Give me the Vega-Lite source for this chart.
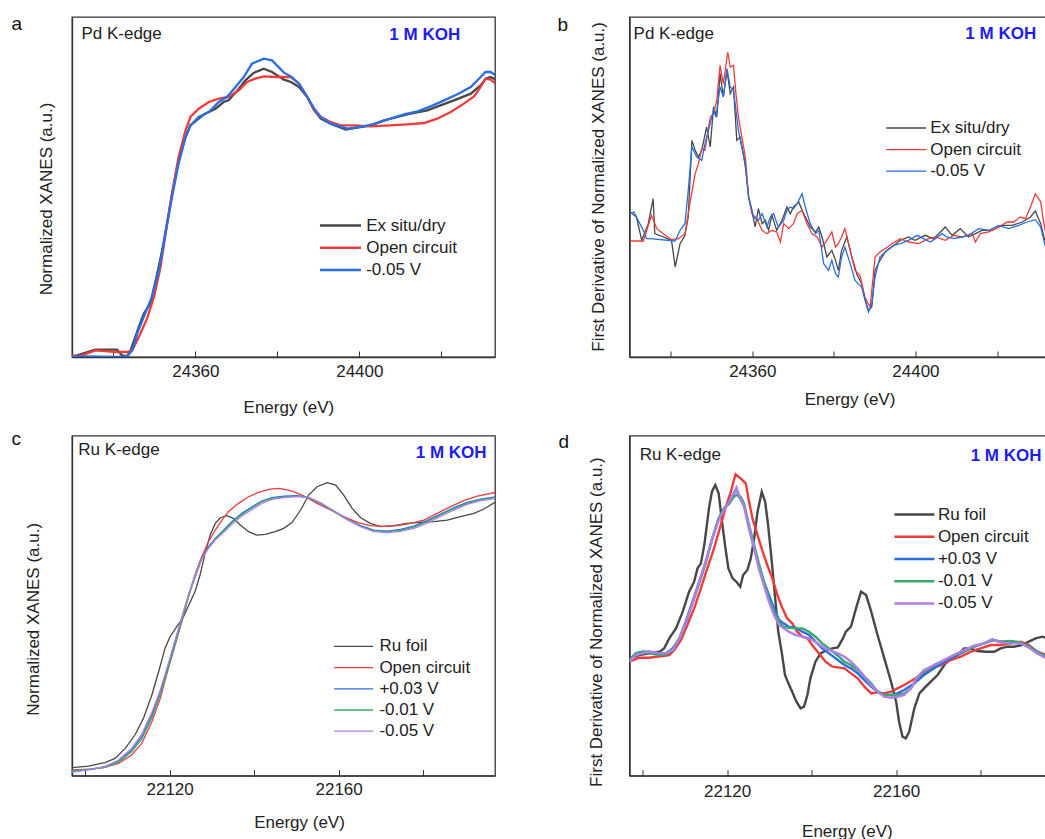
{
"$schema": "https://vega.github.io/schema/vega-lite/v6.json",
"background": "white",
"padding": {"left": 10, "top": 13, "right": 0, "bottom": 0},
"config": {
 "font": "Liberation Sans",
 "view": {"stroke": "#333", "strokeWidth": 1.3},
 "axis": {"grid": false, "domainColor": "#333", "domainWidth": 1.3, "tickColor": "#333", "tickWidth": 1, "labelFont": "Liberation Sans", "labelFontSize": 17, "labelColor": "#222", "titleFont": "Liberation Sans", "titleFontSize": 17, "titleFontWeight": "normal", "titleColor": "#222"},
 "legend": {"orient": "none", "symbolType": "M-1,0H3", "labelFont": "Liberation Sans", "labelFontSize": 17, "labelColor": "#222", "padding": 0, "rowPadding": 0, "labelLimit": 300},
 "title": {"anchor": "start", "frame": "group", "offset": 0, "baseline": "alphabetic", "fontSize": 19, "fontWeight": "normal", "color": "#111", "font": "Liberation Sans"}
},
"datasets": {
"pa": [
{"s":"k","e":24329.9,"v":0},{"s":"k","e":24335.6,"v":2.2},{"s":"k","e":24340.9,"v":2.2},{"s":"k","e":24342.1,"v":0.5},{"s":"k","e":24343.3,"v":0.2},{"s":"k","e":24344.2,"v":2},{"s":"k","e":24346.2,"v":9},{"s":"k","e":24347.4,"v":13},{"s":"k","e":24349.0,"v":16},{"s":"k","e":24350.7,"v":25},{"s":"k","e":24351.9,"v":32},{"s":"k","e":24353.5,"v":43},{"s":"k","e":24354.3,"v":49},{"s":"k","e":24355.9,"v":59},{"s":"k","e":24357.6,"v":66},{"s":"k","e":24358.8,"v":69.5},{"s":"k","e":24360.8,"v":71.5},{"s":"k","e":24362.4,"v":73},{"s":"k","e":24364.9,"v":74.5},{"s":"k","e":24366.9,"v":76.5},{"s":"k","e":24368.1,"v":77},{"s":"k","e":24370.6,"v":80.5},{"s":"k","e":24372.2,"v":83},{"s":"k","e":24374.2,"v":85.2},{"s":"k","e":24376.7,"v":86.5},{"s":"k","e":24378.7,"v":85.5},{"s":"k","e":24381.6,"v":83.2},{"s":"k","e":24383.3,"v":82.5},{"s":"k","e":24385.3,"v":81},{"s":"k","e":24387.3,"v":78},{"s":"k","e":24389.0,"v":74},{"s":"k","e":24390.6,"v":71.5},{"s":"k","e":24393.0,"v":70},{"s":"k","e":24396.7,"v":68.2},{"s":"k","e":24399.5,"v":68.8},{"s":"k","e":24402.8,"v":69.5},{"s":"k","e":24406.0,"v":71},{"s":"k","e":24409.3,"v":72},{"s":"k","e":24412.5,"v":73},{"s":"k","e":24416.6,"v":74},{"s":"k","e":24419.8,"v":75.5},{"s":"k","e":24423.1,"v":77},{"s":"k","e":24427.2,"v":79},{"s":"k","e":24429.6,"v":81.5},{"s":"k","e":24430.8,"v":83.5},{"s":"k","e":24432.0,"v":84},{"s":"k","e":24433.3,"v":83.2},
{"s":"r","e":24329.9,"v":0.5},{"s":"r","e":24331.6,"v":0.2},{"s":"r","e":24335.6,"v":2},{"s":"r","e":24340.9,"v":1.5},{"s":"r","e":24343.3,"v":1.5},{"s":"r","e":24344.6,"v":2},{"s":"r","e":24346.2,"v":6},{"s":"r","e":24348.2,"v":11.5},{"s":"r","e":24349.9,"v":18},{"s":"r","e":24351.5,"v":27},{"s":"r","e":24353.1,"v":40},{"s":"r","e":24354.3,"v":49},{"s":"r","e":24355.9,"v":60},{"s":"r","e":24357.6,"v":68},{"s":"r","e":24358.8,"v":72},{"s":"r","e":24360.8,"v":74.5},{"s":"r","e":24363.3,"v":76.5},{"s":"r","e":24365.7,"v":77.5},{"s":"r","e":24368.1,"v":78},{"s":"r","e":24370.6,"v":80},{"s":"r","e":24372.6,"v":82.5},{"s":"r","e":24374.6,"v":83.5},{"s":"r","e":24376.7,"v":84.2},{"s":"r","e":24379.5,"v":84},{"s":"r","e":24381.6,"v":84},{"s":"r","e":24383.3,"v":84},{"s":"r","e":24385.3,"v":82},{"s":"r","e":24387.3,"v":78},{"s":"r","e":24389.0,"v":74},{"s":"r","e":24390.6,"v":72},{"s":"r","e":24393.0,"v":70.5},{"s":"r","e":24395.4,"v":69.5},{"s":"r","e":24398.7,"v":69.5},{"s":"r","e":24402.8,"v":69.2},{"s":"r","e":24407.6,"v":69.5},{"s":"r","e":24411.7,"v":69.8},{"s":"r","e":24415.8,"v":70.2},{"s":"r","e":24419.0,"v":71.5},{"s":"r","e":24422.3,"v":73.5},{"s":"r","e":24425.5,"v":76},{"s":"r","e":24428.0,"v":78.2},{"s":"r","e":24429.6,"v":81},{"s":"r","e":24430.8,"v":83.5},{"s":"r","e":24432.0,"v":83.2},{"s":"r","e":24433.3,"v":82},
{"s":"b","e":24329.9,"v":0},{"s":"b","e":24333.2,"v":0.2},{"s":"b","e":24340.5,"v":0},{"s":"b","e":24343.3,"v":0},{"s":"b","e":24344.6,"v":2},{"s":"b","e":24345.8,"v":7},{"s":"b","e":24347.4,"v":12},{"s":"b","e":24349.4,"v":18},{"s":"b","e":24351.1,"v":26},{"s":"b","e":24352.7,"v":37},{"s":"b","e":24354.3,"v":48},{"s":"b","e":24355.9,"v":58},{"s":"b","e":24357.6,"v":66},{"s":"b","e":24358.8,"v":69.5},{"s":"b","e":24360.8,"v":72},{"s":"b","e":24363.3,"v":73.5},{"s":"b","e":24365.7,"v":76.5},{"s":"b","e":24367.7,"v":78},{"s":"b","e":24369.8,"v":81},{"s":"b","e":24371.8,"v":84},{"s":"b","e":24373.8,"v":88},{"s":"b","e":24376.7,"v":89.5},{"s":"b","e":24378.7,"v":89},{"s":"b","e":24381.6,"v":85.3},{"s":"b","e":24383.3,"v":84.2},{"s":"b","e":24385.3,"v":82},{"s":"b","e":24387.3,"v":78},{"s":"b","e":24389.0,"v":74.5},{"s":"b","e":24390.6,"v":72},{"s":"b","e":24393.0,"v":70},{"s":"b","e":24397.1,"v":68.5},{"s":"b","e":24401.1,"v":69.2},{"s":"b","e":24404.4,"v":70.2},{"s":"b","e":24407.6,"v":71.5},{"s":"b","e":24410.9,"v":72.8},{"s":"b","e":24414.2,"v":73.7},{"s":"b","e":24417.4,"v":75.2},{"s":"b","e":24420.7,"v":77},{"s":"b","e":24423.9,"v":78.8},{"s":"b","e":24427.2,"v":81},{"s":"b","e":24429.6,"v":84},{"s":"b","e":24430.8,"v":85.5},{"s":"b","e":24432.0,"v":85.5},{"s":"b","e":24433.3,"v":84.5}
],
"pb": [
{"s":"k","e":24330.0,"v":43.5},{"s":"k","e":24331.6,"v":42},{"s":"k","e":24332.9,"v":35},{"s":"k","e":24334.5,"v":40},{"s":"k","e":24335.7,"v":47.5},{"s":"k","e":24336.1,"v":37},{"s":"k","e":24338.2,"v":36},{"s":"k","e":24340.2,"v":35},{"s":"k","e":24341.1,"v":27},{"s":"k","e":24342.3,"v":34},{"s":"k","e":24343.5,"v":36.5},{"s":"k","e":24344.3,"v":42},{"s":"k","e":24345.2,"v":65},{"s":"k","e":24346.0,"v":62},{"s":"k","e":24346.8,"v":60},{"s":"k","e":24347.6,"v":62},{"s":"k","e":24348.8,"v":69},{"s":"k","e":24349.7,"v":63},{"s":"k","e":24350.5,"v":75},{"s":"k","e":24351.3,"v":72},{"s":"k","e":24352.1,"v":85},{"s":"k","e":24352.9,"v":78},{"s":"k","e":24353.8,"v":86},{"s":"k","e":24354.6,"v":79},{"s":"k","e":24355.4,"v":81},{"s":"k","e":24356.2,"v":65},{"s":"k","e":24357.0,"v":66},{"s":"k","e":24357.8,"v":61},{"s":"k","e":24358.3,"v":57},{"s":"k","e":24359.1,"v":48},{"s":"k","e":24359.9,"v":44},{"s":"k","e":24360.7,"v":39},{"s":"k","e":24361.5,"v":44.5},{"s":"k","e":24362.4,"v":40},{"s":"k","e":24363.2,"v":41},{"s":"k","e":24364.0,"v":38},{"s":"k","e":24364.8,"v":42.5},{"s":"k","e":24366.0,"v":38},{"s":"k","e":24367.3,"v":41},{"s":"k","e":24368.5,"v":45},{"s":"k","e":24369.3,"v":43},{"s":"k","e":24370.1,"v":45},{"s":"k","e":24371.4,"v":46.5},{"s":"k","e":24372.2,"v":44},{"s":"k","e":24373.0,"v":42},{"s":"k","e":24374.2,"v":39},{"s":"k","e":24375.5,"v":37.5},{"s":"k","e":24376.3,"v":39},{"s":"k","e":24377.1,"v":36},{"s":"k","e":24378.3,"v":30},{"s":"k","e":24379.5,"v":32},{"s":"k","e":24380.4,"v":29},{"s":"k","e":24381.1,"v":26},{"s":"k","e":24381.9,"v":32},{"s":"k","e":24383.2,"v":36},{"s":"k","e":24384.4,"v":30},{"s":"k","e":24385.6,"v":25},{"s":"k","e":24386.8,"v":22},{"s":"k","e":24387.6,"v":17.5},{"s":"k","e":24388.5,"v":14},{"s":"k","e":24389.3,"v":15},{"s":"k","e":24390.1,"v":26},{"s":"k","e":24391.3,"v":29},{"s":"k","e":24392.6,"v":31.5},{"s":"k","e":24394.2,"v":33},{"s":"k","e":24396.3,"v":35},{"s":"k","e":24398.3,"v":36},{"s":"k","e":24399.9,"v":35},{"s":"k","e":24402.4,"v":36.5},{"s":"k","e":24404.4,"v":35.5},{"s":"k","e":24405.7,"v":37},{"s":"k","e":24407.3,"v":39},{"s":"k","e":24409.0,"v":36.5},{"s":"k","e":24411.0,"v":38.5},{"s":"k","e":24413.0,"v":36},{"s":"k","e":24414.7,"v":37},{"s":"k","e":24416.3,"v":38},{"s":"k","e":24418.8,"v":38},{"s":"k","e":24421.2,"v":39.5},{"s":"k","e":24423.7,"v":39.5},{"s":"k","e":24426.2,"v":40.5},{"s":"k","e":24428.2,"v":42},{"s":"k","e":24429.4,"v":43.8},{"s":"k","e":24430.7,"v":40},{"s":"k","e":24431.9,"v":34},{"s":"k","e":24432.5,"v":31},
{"s":"r","e":24330.0,"v":34.8},{"s":"r","e":24333.3,"v":34.8},{"s":"r","e":24335.3,"v":42.5},{"s":"r","e":24336.6,"v":38.5},{"s":"r","e":24338.2,"v":37},{"s":"r","e":24340.2,"v":35.2},{"s":"r","e":24341.9,"v":35.5},{"s":"r","e":24343.5,"v":37},{"s":"r","e":24344.7,"v":46},{"s":"r","e":24346.0,"v":55},{"s":"r","e":24346.8,"v":58},{"s":"r","e":24347.6,"v":62.5},{"s":"r","e":24348.4,"v":62},{"s":"r","e":24349.7,"v":72},{"s":"r","e":24350.5,"v":73},{"s":"r","e":24351.3,"v":77},{"s":"r","e":24352.1,"v":87.5},{"s":"r","e":24352.9,"v":82},{"s":"r","e":24354.0,"v":91.5},{"s":"r","e":24354.6,"v":87},{"s":"r","e":24355.4,"v":87.5},{"s":"r","e":24356.0,"v":79},{"s":"r","e":24356.6,"v":72},{"s":"r","e":24357.3,"v":67},{"s":"r","e":24358.3,"v":60},{"s":"r","e":24359.1,"v":48},{"s":"r","e":24359.9,"v":43},{"s":"r","e":24361.1,"v":41.5},{"s":"r","e":24362.4,"v":38},{"s":"r","e":24363.6,"v":37},{"s":"r","e":24364.8,"v":38},{"s":"r","e":24366.0,"v":37.5},{"s":"r","e":24366.9,"v":34.5},{"s":"r","e":24367.7,"v":40},{"s":"r","e":24368.9,"v":38.5},{"s":"r","e":24370.1,"v":40},{"s":"r","e":24371.0,"v":43},{"s":"r","e":24372.2,"v":44},{"s":"r","e":24373.4,"v":40},{"s":"r","e":24374.6,"v":37},{"s":"r","e":24375.9,"v":36},{"s":"r","e":24377.1,"v":33},{"s":"r","e":24378.3,"v":35},{"s":"r","e":24379.5,"v":37.5},{"s":"r","e":24380.4,"v":33},{"s":"r","e":24381.1,"v":34},{"s":"r","e":24381.9,"v":36},{"s":"r","e":24382.7,"v":38.5},{"s":"r","e":24384.0,"v":32},{"s":"r","e":24385.2,"v":26},{"s":"r","e":24386.4,"v":24.5},{"s":"r","e":24387.6,"v":18},{"s":"r","e":24388.9,"v":15},{"s":"r","e":24390.1,"v":30},{"s":"r","e":24391.3,"v":31.5},{"s":"r","e":24392.6,"v":32.5},{"s":"r","e":24394.2,"v":34},{"s":"r","e":24396.3,"v":35.5},{"s":"r","e":24398.3,"v":34.5},{"s":"r","e":24400.8,"v":34},{"s":"r","e":24403.2,"v":35.5},{"s":"r","e":24404.9,"v":36},{"s":"r","e":24407.3,"v":35},{"s":"r","e":24409.4,"v":36.5},{"s":"r","e":24411.4,"v":36},{"s":"r","e":24413.9,"v":37},{"s":"r","e":24414.7,"v":34.5},{"s":"r","e":24415.9,"v":37},{"s":"r","e":24418.0,"v":37.5},{"s":"r","e":24420.4,"v":39},{"s":"r","e":24422.5,"v":40.5},{"s":"r","e":24424.1,"v":40.5},{"s":"r","e":24425.7,"v":42},{"s":"r","e":24427.0,"v":41.5},{"s":"r","e":24428.2,"v":45},{"s":"r","e":24429.4,"v":49},{"s":"r","e":24430.7,"v":46.5},{"s":"r","e":24431.5,"v":40},{"s":"r","e":24432.5,"v":33.5},
{"s":"b","e":24330.0,"v":43},{"s":"b","e":24331.0,"v":43.5},{"s":"b","e":24332.0,"v":41},{"s":"b","e":24333.3,"v":38},{"s":"b","e":24334.1,"v":35.5},{"s":"b","e":24334.9,"v":35.5},{"s":"b","e":24341.1,"v":34.8},{"s":"b","e":24342.3,"v":38},{"s":"b","e":24343.5,"v":40},{"s":"b","e":24344.3,"v":50},{"s":"b","e":24345.2,"v":63},{"s":"b","e":24346.4,"v":60},{"s":"b","e":24347.6,"v":59},{"s":"b","e":24348.4,"v":64},{"s":"b","e":24349.7,"v":70},{"s":"b","e":24350.5,"v":74},{"s":"b","e":24351.1,"v":72},{"s":"b","e":24352.1,"v":81},{"s":"b","e":24352.9,"v":78},{"s":"b","e":24353.8,"v":86.5},{"s":"b","e":24354.6,"v":81},{"s":"b","e":24355.4,"v":80},{"s":"b","e":24356.6,"v":68},{"s":"b","e":24357.4,"v":63},{"s":"b","e":24358.3,"v":58},{"s":"b","e":24359.1,"v":48},{"s":"b","e":24360.3,"v":42},{"s":"b","e":24361.5,"v":41},{"s":"b","e":24362.4,"v":43},{"s":"b","e":24363.6,"v":39},{"s":"b","e":24364.4,"v":42},{"s":"b","e":24365.2,"v":43},{"s":"b","e":24366.4,"v":39},{"s":"b","e":24367.7,"v":41},{"s":"b","e":24368.5,"v":44},{"s":"b","e":24369.3,"v":45},{"s":"b","e":24370.1,"v":44.5},{"s":"b","e":24371.0,"v":46},{"s":"b","e":24372.2,"v":49},{"s":"b","e":24373.0,"v":45},{"s":"b","e":24374.2,"v":40},{"s":"b","e":24375.5,"v":37},{"s":"b","e":24376.3,"v":38},{"s":"b","e":24377.5,"v":28},{"s":"b","e":24378.7,"v":26},{"s":"b","e":24379.5,"v":29},{"s":"b","e":24380.4,"v":25},{"s":"b","e":24381.1,"v":24},{"s":"b","e":24381.9,"v":30},{"s":"b","e":24382.7,"v":33},{"s":"b","e":24384.0,"v":28},{"s":"b","e":24385.2,"v":23},{"s":"b","e":24386.8,"v":21},{"s":"b","e":24388.1,"v":15},{"s":"b","e":24388.5,"v":13.5},{"s":"b","e":24389.3,"v":16},{"s":"b","e":24390.1,"v":24},{"s":"b","e":24391.3,"v":30},{"s":"b","e":24393.0,"v":32},{"s":"b","e":24394.6,"v":33.5},{"s":"b","e":24396.3,"v":34},{"s":"b","e":24398.3,"v":35},{"s":"b","e":24400.4,"v":36.5},{"s":"b","e":24402.0,"v":35.5},{"s":"b","e":24403.6,"v":34.5},{"s":"b","e":24404.9,"v":35.5},{"s":"b","e":24406.5,"v":37},{"s":"b","e":24407.7,"v":36},{"s":"b","e":24409.4,"v":35.5},{"s":"b","e":24411.4,"v":36},{"s":"b","e":24413.0,"v":36.5},{"s":"b","e":24415.5,"v":38.5},{"s":"b","e":24418.0,"v":38},{"s":"b","e":24420.4,"v":39.5},{"s":"b","e":24422.9,"v":38.5},{"s":"b","e":24425.3,"v":39.5},{"s":"b","e":24427.4,"v":40.5},{"s":"b","e":24429.4,"v":41.2},{"s":"b","e":24430.7,"v":39},{"s":"b","e":24431.9,"v":33},{"s":"b","e":24432.5,"v":30}
],
"pc": [
{"s":"k","e":22096.85,"v":2.4},{"s":"k","e":22100.8,"v":2.9},{"s":"k","e":22104.7,"v":3.9},{"s":"k","e":22107.1,"v":5.2},{"s":"k","e":22109.5,"v":8.2},{"s":"k","e":22111.8,"v":12.2},{"s":"k","e":22113.8,"v":17.2},{"s":"k","e":22115.8,"v":24.2},{"s":"k","e":22117.4,"v":31.2},{"s":"k","e":22118.9,"v":38.2},{"s":"k","e":22120.1,"v":41.7},{"s":"k","e":22121.7,"v":44.7},{"s":"k","e":22123.3,"v":47.7},{"s":"k","e":22124.9,"v":52.2},{"s":"k","e":22126.0,"v":55.2},{"s":"k","e":22127.2,"v":60.2},{"s":"k","e":22128.4,"v":66.7},{"s":"k","e":22129.6,"v":72.2},{"s":"k","e":22130.8,"v":75.7},{"s":"k","e":22132.0,"v":77.4},{"s":"k","e":22133.5,"v":78},{"s":"k","e":22135.1,"v":77.2},{"s":"k","e":22136.7,"v":75.2},{"s":"k","e":22138.7,"v":73.2},{"s":"k","e":22140.6,"v":72.2},{"s":"k","e":22142.6,"v":72.4},{"s":"k","e":22145.0,"v":73.2},{"s":"k","e":22147.0,"v":74.2},{"s":"k","e":22149.0,"v":76},{"s":"k","e":22151.0,"v":79.7},{"s":"k","e":22152.9,"v":84.2},{"s":"k","e":22154.9,"v":86.7},{"s":"k","e":22157.3,"v":87.9},{"s":"k","e":22159.3,"v":87.2},{"s":"k","e":22161.2,"v":84.2},{"s":"k","e":22163.2,"v":80.2},{"s":"k","e":22165.2,"v":77.4},{"s":"k","e":22167.5,"v":75.7},{"s":"k","e":22169.9,"v":74.7},{"s":"k","e":22173.1,"v":75},{"s":"k","e":22176.2,"v":75.7},{"s":"k","e":22179.4,"v":76},{"s":"k","e":22182.5,"v":76.2},{"s":"k","e":22185.7,"v":76.7},{"s":"k","e":22188.8,"v":77.7},{"s":"k","e":22192.0,"v":78.7},{"s":"k","e":22194.4,"v":80},{"s":"k","e":22197.2,"v":82.2},
{"s":"r","e":22096.85,"v":1.7},{"s":"r","e":22101.6,"v":2},{"s":"r","e":22104.7,"v":2.5},{"s":"r","e":22107.9,"v":3.7},{"s":"r","e":22111.0,"v":6.2},{"s":"r","e":22113.4,"v":9.7},{"s":"r","e":22115.8,"v":16.2},{"s":"r","e":22117.8,"v":23.2},{"s":"r","e":22119.7,"v":32.2},{"s":"r","e":22121.3,"v":39.2},{"s":"r","e":22122.9,"v":46.2},{"s":"r","e":22124.5,"v":54.2},{"s":"r","e":22126.0,"v":60.2},{"s":"r","e":22127.6,"v":65.7},{"s":"r","e":22129.2,"v":70.2},{"s":"r","e":22130.8,"v":73.7},{"s":"r","e":22132.4,"v":76.7},{"s":"r","e":22133.9,"v":79.2},{"s":"r","e":22136.3,"v":81.7},{"s":"r","e":22138.7,"v":83.7},{"s":"r","e":22141.0,"v":85},{"s":"r","e":22143.8,"v":86},{"s":"r","e":22145.8,"v":86.2},{"s":"r","e":22147.0,"v":86},{"s":"r","e":22149.4,"v":85.2},{"s":"r","e":22151.8,"v":83.9},{"s":"r","e":22154.9,"v":81.7},{"s":"r","e":22158.1,"v":79.7},{"s":"r","e":22161.2,"v":77.7},{"s":"r","e":22164.4,"v":76},{"s":"r","e":22167.5,"v":75},{"s":"r","e":22170.7,"v":74.8},{"s":"r","e":22173.9,"v":75},{"s":"r","e":22177.0,"v":75.7},{"s":"r","e":22180.2,"v":76.7},{"s":"r","e":22183.3,"v":78.7},{"s":"r","e":22186.5,"v":80.7},{"s":"r","e":22189.6,"v":82.5},{"s":"r","e":22192.8,"v":83.9},{"s":"r","e":22197.2,"v":85},
{"s":"b","e":22096.85,"v":1.2},{"s":"b","e":22101.6,"v":1.9},{"s":"b","e":22104.7,"v":2.7},{"s":"b","e":22107.9,"v":4.4},{"s":"b","e":22111.0,"v":7.7},{"s":"b","e":22113.4,"v":11.7},{"s":"b","e":22115.8,"v":18.2},{"s":"b","e":22117.8,"v":25.2},{"s":"b","e":22119.7,"v":33.2},{"s":"b","e":22121.3,"v":40.2},{"s":"b","e":22122.9,"v":47.2},{"s":"b","e":22124.5,"v":54.2},{"s":"b","e":22126.0,"v":59.7},{"s":"b","e":22127.6,"v":65.2},{"s":"b","e":22129.2,"v":68.7},{"s":"b","e":22130.8,"v":71.2},{"s":"b","e":22132.8,"v":73.7},{"s":"b","e":22134.7,"v":76.2},{"s":"b","e":22137.1,"v":78.7},{"s":"b","e":22139.5,"v":80.7},{"s":"b","e":22141.8,"v":82.4},{"s":"b","e":22144.2,"v":83.4},{"s":"b","e":22147.0,"v":83.9},{"s":"b","e":22150.2,"v":84},{"s":"b","e":22152.9,"v":83.4},{"s":"b","e":22155.7,"v":81.7},{"s":"b","e":22158.9,"v":79.4},{"s":"b","e":22162.0,"v":77},{"s":"b","e":22165.2,"v":75},{"s":"b","e":22168.3,"v":73.7},{"s":"b","e":22171.5,"v":73.4},{"s":"b","e":22174.6,"v":73.9},{"s":"b","e":22177.8,"v":74.9},{"s":"b","e":22180.9,"v":76.5},{"s":"b","e":22184.1,"v":78.5},{"s":"b","e":22187.3,"v":80.4},{"s":"b","e":22190.4,"v":82},{"s":"b","e":22193.6,"v":83},{"s":"b","e":22197.2,"v":83.7},
{"s":"g","e":22096.85,"v":1.4},{"s":"g","e":22104.7,"v":2.5},{"s":"g","e":22107.9,"v":4},{"s":"g","e":22111.0,"v":7.2},{"s":"g","e":22113.4,"v":11},{"s":"g","e":22115.8,"v":17.4},{"s":"g","e":22117.8,"v":24.4},{"s":"g","e":22119.7,"v":32.4},{"s":"g","e":22121.3,"v":39.4},{"s":"g","e":22122.9,"v":46.7},{"s":"g","e":22124.5,"v":53.8},{"s":"g","e":22126.0,"v":59.5},{"s":"g","e":22127.6,"v":65},{"s":"g","e":22129.2,"v":68.5},{"s":"g","e":22130.8,"v":71},{"s":"g","e":22132.8,"v":73.5},{"s":"g","e":22134.7,"v":75.9},{"s":"g","e":22137.1,"v":78.4},{"s":"g","e":22139.5,"v":80.4},{"s":"g","e":22141.8,"v":82.2},{"s":"g","e":22144.2,"v":83.2},{"s":"g","e":22147.0,"v":83.6},{"s":"g","e":22150.2,"v":83.9},{"s":"g","e":22152.9,"v":83.4},{"s":"g","e":22155.7,"v":81.7},{"s":"g","e":22158.9,"v":79.2},{"s":"g","e":22162.0,"v":76.8},{"s":"g","e":22165.2,"v":74.8},{"s":"g","e":22168.3,"v":73.5},{"s":"g","e":22171.5,"v":73.2},{"s":"g","e":22174.6,"v":73.6},{"s":"g","e":22177.8,"v":74.6},{"s":"g","e":22180.9,"v":76.2},{"s":"g","e":22184.1,"v":78.2},{"s":"g","e":22187.3,"v":80.1},{"s":"g","e":22190.4,"v":81.7},{"s":"g","e":22193.6,"v":82.8},{"s":"g","e":22197.2,"v":83.5},
{"s":"p","e":22096.85,"v":1},{"s":"p","e":22104.7,"v":2.7},{"s":"p","e":22107.9,"v":4.7},{"s":"p","e":22111.0,"v":8.2},{"s":"p","e":22113.4,"v":12.4},{"s":"p","e":22115.8,"v":19},{"s":"p","e":22117.8,"v":25.7},{"s":"p","e":22119.7,"v":33.7},{"s":"p","e":22121.3,"v":40.7},{"s":"p","e":22122.9,"v":47.7},{"s":"p","e":22124.5,"v":54.4},{"s":"p","e":22126.0,"v":59.7},{"s":"p","e":22127.6,"v":65},{"s":"p","e":22129.2,"v":68.2},{"s":"p","e":22130.8,"v":70.7},{"s":"p","e":22132.8,"v":73},{"s":"p","e":22134.7,"v":75.4},{"s":"p","e":22137.1,"v":77.9},{"s":"p","e":22139.5,"v":79.9},{"s":"p","e":22141.8,"v":81.7},{"s":"p","e":22144.2,"v":82.9},{"s":"p","e":22147.0,"v":83.4},{"s":"p","e":22150.2,"v":83.7},{"s":"p","e":22152.9,"v":83.5},{"s":"p","e":22155.7,"v":81.9},{"s":"p","e":22158.9,"v":79.4},{"s":"p","e":22162.0,"v":76.9},{"s":"p","e":22165.2,"v":74.7},{"s":"p","e":22168.3,"v":73.2},{"s":"p","e":22171.5,"v":72.9},{"s":"p","e":22174.6,"v":73.3},{"s":"p","e":22177.8,"v":74.2},{"s":"p","e":22180.9,"v":75.8},{"s":"p","e":22184.1,"v":77.8},{"s":"p","e":22187.3,"v":79.7},{"s":"p","e":22190.4,"v":81.4},{"s":"p","e":22193.6,"v":82.5},{"s":"p","e":22197.2,"v":83.2}
],
"pd": [
{"s":"k","e":22096.9,"v":35.2},{"s":"k","e":22099.2,"v":36.2},{"s":"k","e":22101.6,"v":36.7},{"s":"k","e":22104.0,"v":37.2},{"s":"k","e":22105.1,"v":38.2},{"s":"k","e":22106.3,"v":41.2},{"s":"k","e":22107.9,"v":44.2},{"s":"k","e":22109.5,"v":49.2},{"s":"k","e":22111.0,"v":55.2},{"s":"k","e":22112.2,"v":58.2},{"s":"k","e":22113.0,"v":62.2},{"s":"k","e":22113.8,"v":63.7},{"s":"k","e":22114.6,"v":69.2},{"s":"k","e":22115.7,"v":80.2},{"s":"k","e":22116.4,"v":85.2},{"s":"k","e":22117.2,"v":87.2},{"s":"k","e":22118.0,"v":84.7},{"s":"k","e":22118.7,"v":77.2},{"s":"k","e":22119.5,"v":69.2},{"s":"k","e":22120.3,"v":62.2},{"s":"k","e":22121.3,"v":59.2},{"s":"k","e":22122.2,"v":58.2},{"s":"k","e":22123.1,"v":56.7},{"s":"k","e":22123.8,"v":60.2},{"s":"k","e":22124.8,"v":61.7},{"s":"k","e":22125.6,"v":65.2},{"s":"k","e":22126.4,"v":71.2},{"s":"k","e":22127.2,"v":79.2},{"s":"k","e":22128.2,"v":85.2},{"s":"k","e":22129.0,"v":82.2},{"s":"k","e":22129.7,"v":75.2},{"s":"k","e":22130.5,"v":65.2},{"s":"k","e":22131.3,"v":54.2},{"s":"k","e":22132.1,"v":43.2},{"s":"k","e":22132.9,"v":37.2},{"s":"k","e":22133.7,"v":30.2},{"s":"k","e":22134.5,"v":27.7},{"s":"k","e":22135.4,"v":25.2},{"s":"k","e":22136.4,"v":22.2},{"s":"k","e":22137.4,"v":20.2},{"s":"k","e":22138.2,"v":20.7},{"s":"k","e":22139.0,"v":24.2},{"s":"k","e":22139.7,"v":29.2},{"s":"k","e":22140.9,"v":34.2},{"s":"k","e":22142.1,"v":36.7},{"s":"k","e":22143.7,"v":37.7},{"s":"k","e":22144.9,"v":38.2},{"s":"k","e":22146.2,"v":38.5},{"s":"k","e":22147.4,"v":41.2},{"s":"k","e":22148.1,"v":43.2},{"s":"k","e":22149.3,"v":44.7},{"s":"k","e":22150.5,"v":50.2},{"s":"k","e":22151.7,"v":55.2},{"s":"k","e":22152.9,"v":54.2},{"s":"k","e":22154.1,"v":49.2},{"s":"k","e":22155.6,"v":42.2},{"s":"k","e":22157.2,"v":35.2},{"s":"k","e":22158.8,"v":28.2},{"s":"k","e":22160.0,"v":22.2},{"s":"k","e":22160.7,"v":16.2},{"s":"k","e":22161.5,"v":11.7},{"s":"k","e":22162.3,"v":11.2},{"s":"k","e":22163.1,"v":13.2},{"s":"k","e":22164.3,"v":20.2},{"s":"k","e":22165.5,"v":24.7},{"s":"k","e":22166.6,"v":26.2},{"s":"k","e":22168.2,"v":28.2},{"s":"k","e":22169.8,"v":30.2},{"s":"k","e":22171.4,"v":33.2},{"s":"k","e":22172.9,"v":35.2},{"s":"k","e":22174.5,"v":36.2},{"s":"k","e":22176.1,"v":38.2},{"s":"k","e":22177.7,"v":38.2},{"s":"k","e":22179.2,"v":37.4},{"s":"k","e":22181.2,"v":37.2},{"s":"k","e":22183.2,"v":37.2},{"s":"k","e":22184.7,"v":38.2},{"s":"k","e":22186.3,"v":38.7},{"s":"k","e":22187.9,"v":38.7},{"s":"k","e":22189.8,"v":39.2},{"s":"k","e":22191.4,"v":40.2},{"s":"k","e":22193.0,"v":41.2},{"s":"k","e":22194.6,"v":41.7},{"s":"k","e":22195.5,"v":41.4},
{"s":"r","e":22096.9,"v":34.2},{"s":"r","e":22099.2,"v":35.4},{"s":"r","e":22101.6,"v":35.4},{"s":"r","e":22103.2,"v":35.7},{"s":"r","e":22104.7,"v":35.9},{"s":"r","e":22106.3,"v":36.2},{"s":"r","e":22107.5,"v":37.7},{"s":"r","e":22109.1,"v":40.7},{"s":"r","e":22110.6,"v":45.2},{"s":"r","e":22112.2,"v":50.2},{"s":"r","e":22113.8,"v":56.2},{"s":"r","e":22115.3,"v":62.2},{"s":"r","e":22116.9,"v":68.2},{"s":"r","e":22118.5,"v":75.2},{"s":"r","e":22119.7,"v":80.7},{"s":"r","e":22120.9,"v":85.2},{"s":"r","e":22121.5,"v":88.2},{"s":"r","e":22122.0,"v":90.4},{"s":"r","e":22123.2,"v":89.2},{"s":"r","e":22124.4,"v":87.7},{"s":"r","e":22125.2,"v":82.2},{"s":"r","e":22126.0,"v":77.2},{"s":"r","e":22127.2,"v":72.2},{"s":"r","e":22128.3,"v":67.7},{"s":"r","e":22129.5,"v":63.2},{"s":"r","e":22130.7,"v":59.2},{"s":"r","e":22131.9,"v":54.2},{"s":"r","e":22133.1,"v":50.2},{"s":"r","e":22134.2,"v":47.2},{"s":"r","e":22135.4,"v":45.7},{"s":"r","e":22136.6,"v":43.2},{"s":"r","e":22137.8,"v":41.7},{"s":"r","e":22139.0,"v":41.2},{"s":"r","e":22140.1,"v":39.2},{"s":"r","e":22141.7,"v":36.7},{"s":"r","e":22143.3,"v":34.2},{"s":"r","e":22144.9,"v":32.7},{"s":"r","e":22146.2,"v":32.5},{"s":"r","e":22147.8,"v":32.2},{"s":"r","e":22149.3,"v":30.7},{"s":"r","e":22150.9,"v":29.2},{"s":"r","e":22152.5,"v":26.7},{"s":"r","e":22154.1,"v":24.7},{"s":"r","e":22155.6,"v":25},{"s":"r","e":22157.2,"v":24.7},{"s":"r","e":22158.8,"v":25.2},{"s":"r","e":22160.3,"v":26.2},{"s":"r","e":22161.9,"v":27.2},{"s":"r","e":22163.5,"v":28.4},{"s":"r","e":22165.9,"v":30.2},{"s":"r","e":22168.2,"v":32.2},{"s":"r","e":22170.6,"v":33.2},{"s":"r","e":22172.9,"v":34.7},{"s":"r","e":22175.3,"v":35.7},{"s":"r","e":22177.7,"v":37.2},{"s":"r","e":22180.0,"v":38.2},{"s":"r","e":22182.4,"v":39.2},{"s":"r","e":22184.7,"v":39.2},{"s":"r","e":22187.1,"v":39.7},{"s":"r","e":22189.5,"v":40.2},{"s":"r","e":22191.4,"v":39.2},{"s":"r","e":22193.4,"v":37.2},{"s":"r","e":22195.5,"v":36.2},
{"s":"b","e":22096.9,"v":34.7},{"s":"b","e":22098.4,"v":36.7},{"s":"b","e":22100.0,"v":37.2},{"s":"b","e":22101.6,"v":37.2},{"s":"b","e":22104.0,"v":36.7},{"s":"b","e":22105.5,"v":36.7},{"s":"b","e":22107.1,"v":38.2},{"s":"b","e":22108.7,"v":41.2},{"s":"b","e":22110.2,"v":46.2},{"s":"b","e":22111.8,"v":52.2},{"s":"b","e":22113.4,"v":58.2},{"s":"b","e":22115.0,"v":64.2},{"s":"b","e":22116.5,"v":71.2},{"s":"b","e":22118.0,"v":77.2},{"s":"b","e":22119.3,"v":80.2},{"s":"b","e":22120.5,"v":81.7},{"s":"b","e":22121.6,"v":84.7},{"s":"b","e":22122.2,"v":86.2},{"s":"b","e":22122.8,"v":83.7},{"s":"b","e":22124.0,"v":81.2},{"s":"b","e":22125.2,"v":74.2},{"s":"b","e":22126.4,"v":68.2},{"s":"b","e":22127.5,"v":63.2},{"s":"b","e":22128.7,"v":58.2},{"s":"b","e":22129.9,"v":54.2},{"s":"b","e":22131.1,"v":50.2},{"s":"b","e":22132.3,"v":46.7},{"s":"b","e":22133.4,"v":45.7},{"s":"b","e":22134.6,"v":44.7},{"s":"b","e":22136.2,"v":44.4},{"s":"b","e":22137.8,"v":43.2},{"s":"b","e":22139.4,"v":42.2},{"s":"b","e":22140.9,"v":40.2},{"s":"b","e":22142.5,"v":38.2},{"s":"b","e":22144.1,"v":36.7},{"s":"b","e":22146.2,"v":34.7},{"s":"b","e":22147.8,"v":33.2},{"s":"b","e":22149.3,"v":32.2},{"s":"b","e":22150.9,"v":30.7},{"s":"b","e":22152.5,"v":28.7},{"s":"b","e":22154.1,"v":26.7},{"s":"b","e":22155.6,"v":25.2},{"s":"b","e":22157.2,"v":24.2},{"s":"b","e":22158.8,"v":24.2},{"s":"b","e":22160.3,"v":24.7},{"s":"b","e":22161.9,"v":25.7},{"s":"b","e":22164.3,"v":27.7},{"s":"b","e":22166.6,"v":30.2},{"s":"b","e":22169.0,"v":32.2},{"s":"b","e":22171.4,"v":34.2},{"s":"b","e":22173.7,"v":35.7},{"s":"b","e":22176.1,"v":37.2},{"s":"b","e":22178.4,"v":38.7},{"s":"b","e":22180.8,"v":39.7},{"s":"b","e":22182.8,"v":40.7},{"s":"b","e":22184.7,"v":40.2},{"s":"b","e":22187.1,"v":40.2},{"s":"b","e":22189.5,"v":39.7},{"s":"b","e":22191.4,"v":38.7},{"s":"b","e":22193.4,"v":37.2},{"s":"b","e":22195.5,"v":35.7},
{"s":"g","e":22096.9,"v":34.7},{"s":"g","e":22098.4,"v":36.7},{"s":"g","e":22100.0,"v":37.2},{"s":"g","e":22101.6,"v":36.7},{"s":"g","e":22104.0,"v":36.2},{"s":"g","e":22105.5,"v":36.4},{"s":"g","e":22107.1,"v":37.7},{"s":"g","e":22108.7,"v":41.2},{"s":"g","e":22110.2,"v":45.7},{"s":"g","e":22111.8,"v":51.7},{"s":"g","e":22113.4,"v":57.7},{"s":"g","e":22115.0,"v":64.2},{"s":"g","e":22116.5,"v":71.2},{"s":"g","e":22118.0,"v":77.2},{"s":"g","e":22119.3,"v":80.2},{"s":"g","e":22120.5,"v":81.7},{"s":"g","e":22121.6,"v":83.7},{"s":"g","e":22122.2,"v":84.2},{"s":"g","e":22123.2,"v":83.7},{"s":"g","e":22124.0,"v":81.7},{"s":"g","e":22125.2,"v":75.2},{"s":"g","e":22126.4,"v":69.2},{"s":"g","e":22127.5,"v":63.7},{"s":"g","e":22128.7,"v":58.2},{"s":"g","e":22129.9,"v":53.2},{"s":"g","e":22131.1,"v":49.2},{"s":"g","e":22132.3,"v":46.2},{"s":"g","e":22133.4,"v":44.7},{"s":"g","e":22134.6,"v":44.4},{"s":"g","e":22136.2,"v":44.2},{"s":"g","e":22137.8,"v":44.2},{"s":"g","e":22139.4,"v":43.2},{"s":"g","e":22140.9,"v":41.7},{"s":"g","e":22142.5,"v":39.7},{"s":"g","e":22144.1,"v":38.2},{"s":"g","e":22146.2,"v":36},{"s":"g","e":22147.8,"v":34.2},{"s":"g","e":22149.3,"v":33.2},{"s":"g","e":22150.9,"v":31.7},{"s":"g","e":22152.5,"v":29.7},{"s":"g","e":22154.1,"v":27.7},{"s":"g","e":22155.6,"v":25.2},{"s":"g","e":22157.2,"v":24.2},{"s":"g","e":22158.8,"v":24.2},{"s":"g","e":22160.3,"v":24.2},{"s":"g","e":22161.9,"v":24.7},{"s":"g","e":22163.5,"v":26.2},{"s":"g","e":22165.1,"v":29.7},{"s":"g","e":22166.6,"v":31.2},{"s":"g","e":22169.0,"v":33.2},{"s":"g","e":22171.4,"v":34.7},{"s":"g","e":22173.7,"v":36.2},{"s":"g","e":22176.1,"v":37.4},{"s":"g","e":22178.4,"v":38.7},{"s":"g","e":22180.8,"v":39.7},{"s":"g","e":22182.8,"v":40.7},{"s":"g","e":22184.7,"v":40.2},{"s":"g","e":22187.1,"v":40.4},{"s":"g","e":22189.5,"v":40},{"s":"g","e":22191.4,"v":38.7},{"s":"g","e":22193.4,"v":37.2},{"s":"g","e":22195.5,"v":35.7},
{"s":"p","e":22096.9,"v":34.2},{"s":"p","e":22098.4,"v":36.2},{"s":"p","e":22100.0,"v":36.7},{"s":"p","e":22101.6,"v":37.2},{"s":"p","e":22104.0,"v":36.7},{"s":"p","e":22105.5,"v":36.7},{"s":"p","e":22107.1,"v":37.7},{"s":"p","e":22108.7,"v":41},{"s":"p","e":22110.2,"v":45.7},{"s":"p","e":22111.8,"v":51.7},{"s":"p","e":22113.4,"v":58.2},{"s":"p","e":22115.0,"v":64.7},{"s":"p","e":22116.5,"v":71.2},{"s":"p","e":22118.0,"v":76.7},{"s":"p","e":22119.3,"v":79.7},{"s":"p","e":22120.5,"v":82.2},{"s":"p","e":22121.6,"v":84.7},{"s":"p","e":22122.2,"v":86.4},{"s":"p","e":22122.8,"v":84.2},{"s":"p","e":22124.0,"v":80.7},{"s":"p","e":22125.2,"v":74.7},{"s":"p","e":22126.4,"v":68.2},{"s":"p","e":22127.5,"v":62.2},{"s":"p","e":22128.7,"v":57.2},{"s":"p","e":22129.9,"v":52.2},{"s":"p","e":22131.1,"v":48.2},{"s":"p","e":22132.3,"v":45.2},{"s":"p","e":22133.4,"v":44.2},{"s":"p","e":22134.6,"v":43.2},{"s":"p","e":22136.2,"v":42.2},{"s":"p","e":22137.8,"v":41.7},{"s":"p","e":22139.4,"v":41.2},{"s":"p","e":22140.9,"v":40.2},{"s":"p","e":22142.5,"v":38.7},{"s":"p","e":22144.1,"v":37.7},{"s":"p","e":22146.2,"v":36.7},{"s":"p","e":22147.8,"v":35.7},{"s":"p","e":22149.3,"v":34.2},{"s":"p","e":22150.9,"v":32.2},{"s":"p","e":22152.5,"v":29.7},{"s":"p","e":22154.1,"v":27.2},{"s":"p","e":22155.6,"v":25.2},{"s":"p","e":22157.2,"v":23.7},{"s":"p","e":22158.8,"v":23.4},{"s":"p","e":22160.3,"v":23.7},{"s":"p","e":22161.9,"v":24.2},{"s":"p","e":22163.5,"v":26.2},{"s":"p","e":22165.1,"v":29.7},{"s":"p","e":22166.6,"v":31.7},{"s":"p","e":22169.0,"v":33.2},{"s":"p","e":22171.4,"v":34.7},{"s":"p","e":22173.7,"v":36.2},{"s":"p","e":22176.1,"v":37.7},{"s":"p","e":22178.4,"v":39},{"s":"p","e":22180.8,"v":39.7},{"s":"p","e":22182.8,"v":41},{"s":"p","e":22184.7,"v":40},{"s":"p","e":22187.1,"v":39.7},{"s":"p","e":22189.5,"v":39.7},{"s":"p","e":22191.4,"v":38.4},{"s":"p","e":22193.4,"v":36.7},{"s":"p","e":22195.5,"v":35.2}
]
},
"columns": 2,
"spacing": {"row": 78.7, "column": 134.5},
"bounds": "flush",
"resolve": {"scale": {"color": "independent", "x": "independent", "y": "independent"}, "legend": {"color": "independent"}},
"concat": [
{
 "width": 423, "height": 340,
 "title": {"text": "a", "dx": -60.5, "dy": 20.5},
 "layer": [
  {"data": {"name": "pa"}, "mark": {"type": "line", "strokeWidth": 2.3, "clip": true},
   "encoding": {
    "x": {"field": "e", "type": "quantitative", "scale": {"domain": [24329.9, 24433.1], "nice": false, "zero": false},
          "axis": {"values": [24340, 24360, 24380, 24400, 24420], "format": "d", "labelExpr": "datum.value % 40 == 0 ? datum.label : ''", "tickSize": -6, "labelPadding": 12, "title": "Energy (eV)", "titleX": 216.4, "titleY": 55.5, "titleBaseline": "alphabetic"}},
    "y": {"field": "v", "type": "quantitative", "scale": {"domain": [0, 102], "nice": false, "zero": false},
          "axis": {"labels": false, "ticks": false, "title": "Normalized XANES (a.u.)", "titleAngle": -90, "titleX": -21, "titleY": 181.5, "titleBaseline": "alphabetic"}},
    "color": {"field": "s", "type": "nominal", "scale": {"domain": ["k", "r", "b"], "range": ["#474747", "#f03b3b", "#2a6ee0"]},
          "legend": {"title": null, "legendX": 246.7, "legendY": 197, "symbolSize": 420, "symbolStrokeWidth": 2.5, "labelOffset": 24.5, "rowPadding": 2.2, "labelExpr": "datum.label == 'k' ? 'Ex situ/dry' : datum.label == 'r' ? 'Open circuit' : '-0.05 V'"}}
   }},
  {"data": {"values": [{"t": "Pd K-edge", "e": 24332.2, "v": 97.0}]}, "mark": {"type": "text", "align": "left", "baseline": "middle", "fontSize": 17, "color": "#222"},
   "encoding": {"x": {"field": "e", "type": "quantitative"}, "y": {"field": "v", "type": "quantitative"}, "text": {"field": "t"}}},
  {"data": {"values": [{"t": "1 M KOH", "e": 24424.6, "v": 96.7}]}, "mark": {"type": "text", "align": "right", "baseline": "middle", "fontSize": 17, "fontWeight": "bold", "color": "#1d1df2"},
   "encoding": {"x": {"field": "e", "type": "quantitative"}, "y": {"field": "v", "type": "quantitative"}, "text": {"field": "t"}}}
 ]
},
{
 "width": 423, "height": 340,
 "title": {"text": "b", "dx": -72, "dy": 21.5},
 "layer": [
  {"data": {"name": "pb"}, "mark": {"type": "line", "strokeWidth": 1.3, "clip": true},
   "encoding": {
    "x": {"field": "e", "type": "quantitative", "scale": {"domain": [24329.9, 24433.6], "nice": false, "zero": false},
          "axis": {"values": [24340, 24360, 24380, 24400, 24420], "format": "d", "labelExpr": "datum.value % 40 == 0 ? datum.label : ''", "tickSize": -6, "labelPadding": 12.7, "title": "Energy (eV)", "titleX": 220, "titleY": 47.7, "titleBaseline": "alphabetic"}},
    "y": {"field": "v", "type": "quantitative", "scale": {"domain": [0, 102], "nice": false, "zero": false},
          "axis": {"labels": false, "ticks": false, "title": "First Derivative of Normalized XANES (a.u.)", "titleAngle": -90, "titleX": -26, "titleY": 169.4, "titleBaseline": "alphabetic"}},
    "color": {"field": "s", "type": "nominal", "scale": {"domain": ["k", "r", "b"], "range": ["#474747", "#f03b3b", "#2a6ee0"]},
          "legend": {"title": null, "legendX": 255.7, "legendY": 100, "symbolSize": 400, "symbolStrokeWidth": 1.3, "labelOffset": 23, "rowPadding": 2.6, "labelExpr": "datum.label == 'k' ? 'Ex situ/dry' : datum.label == 'r' ? 'Open circuit' : '-0.05 V'"}}
   }},
  {"data": {"values": [{"t": "Pd K-edge", "e": 24330.9, "v": 96.9}]}, "mark": {"type": "text", "align": "left", "baseline": "middle", "fontSize": 17, "color": "#222"},
   "encoding": {"x": {"field": "e", "type": "quantitative"}, "y": {"field": "v", "type": "quantitative"}, "text": {"field": "t"}}},
  {"data": {"values": [{"t": "1 M KOH", "e": 24429.6, "v": 96.9}]}, "mark": {"type": "text", "align": "right", "baseline": "middle", "fontSize": 17, "fontWeight": "bold", "color": "#1d1df2"},
   "encoding": {"x": {"field": "e", "type": "quantitative"}, "y": {"field": "v", "type": "quantitative"}, "text": {"field": "t"}}}
 ]
},
{
 "width": 423, "height": 340,
 "title": {"text": "c", "dx": -60.5, "dy": 17.6},
 "layer": [
  {"data": {"name": "pc"}, "mark": {"type": "line", "strokeWidth": 1.3, "clip": true},
   "encoding": {
    "x": {"field": "e", "type": "quantitative", "scale": {"domain": [22096.9, 22197.0], "nice": false, "zero": false},
          "axis": {"values": [22100, 22120, 22140, 22160, 22180], "format": "d", "labelExpr": "datum.value % 40 == 0 ? datum.label : ''", "tickSize": -6, "labelPadding": 11.8, "title": "Energy (eV)", "titleX": 227, "titleY": 51.3, "titleBaseline": "alphabetic"}},
    "y": {"field": "v", "type": "quantitative", "scale": {"domain": [0, 102], "nice": false, "zero": false},
          "axis": {"labels": false, "ticks": false, "title": "Normalized XANES (a.u.)", "titleAngle": -90, "titleX": -33.6, "titleY": 183.1, "titleBaseline": "alphabetic"}},
    "color": {"field": "s", "type": "nominal", "scale": {"domain": ["k", "r", "b", "g", "p"], "range": ["#474747", "#f03b3b", "#2a6ee0", "#36aa68", "#b07ee8"]},
          "legend": {"title": null, "legendX": 261.4, "legendY": 200.2, "symbolSize": 380, "symbolStrokeWidth": 1.3, "labelOffset": 25, "rowPadding": 2.2, "labelExpr": "datum.label == 'k' ? 'Ru foil' : datum.label == 'r' ? 'Open circuit' : datum.label == 'b' ? '+0.03 V' : datum.label == 'g' ? '-0.01 V' : '-0.05 V'"}}
   }},
  {"data": {"values": [{"t": "Ru K-edge", "e": 22098.4, "v": 97.8}]}, "mark": {"type": "text", "align": "left", "baseline": "middle", "fontSize": 17, "color": "#222"},
   "encoding": {"x": {"field": "e", "type": "quantitative"}, "y": {"field": "v", "type": "quantitative"}, "text": {"field": "t"}}},
  {"data": {"values": [{"t": "1 M KOH", "e": 22195.0, "v": 96.9}]}, "mark": {"type": "text", "align": "right", "baseline": "middle", "fontSize": 17, "fontWeight": "bold", "color": "#1d1df2"},
   "encoding": {"x": {"field": "e", "type": "quantitative"}, "y": {"field": "v", "type": "quantitative"}, "text": {"field": "t"}}}
 ]
},
{
 "width": 423, "height": 340,
 "title": {"text": "d", "dx": -71, "dy": 19.8},
 "layer": [
  {"data": {"name": "pd"}, "mark": {"type": "line", "strokeWidth": 2.4, "clip": true},
   "encoding": {
    "x": {"field": "e", "type": "quantitative", "scale": {"domain": [22096.9, 22197.0], "nice": false, "zero": false},
          "axis": {"values": [22100, 22120, 22140, 22160, 22180], "format": "d", "labelExpr": "datum.value % 40 == 0 ? datum.label : ''", "tickSize": -6, "labelPadding": 13.5, "title": "Energy (eV)", "titleX": 217.4, "titleY": 60.6, "titleBaseline": "alphabetic"}},
    "y": {"field": "v", "type": "quantitative", "scale": {"domain": [0, 102], "nice": false, "zero": false},
          "axis": {"labels": false, "ticks": false, "title": "First Derivative of Normalized XANES (a.u.)", "titleAngle": -90, "titleX": -28, "titleY": 185.9, "titleBaseline": "alphabetic"}},
    "color": {"field": "s", "type": "nominal", "scale": {"domain": ["k", "r", "b", "g", "p"], "range": ["#474747", "#f03b3b", "#2a6ee0", "#36aa68", "#b07ee8"]},
          "legend": {"title": null, "legendX": 263.4, "legendY": 67.4, "symbolSize": 400, "symbolStrokeWidth": 2.5, "labelOffset": 22, "rowPadding": 2.2, "labelExpr": "datum.label == 'k' ? 'Ru foil' : datum.label == 'r' ? 'Open circuit' : datum.label == 'b' ? '\u00a0+0.03 V' : datum.label == 'g' ? '-0.01 V' : '-0.05 V'"}}
   }},
  {"data": {"values": [{"t": "Ru K-edge", "e": 22099.3, "v": 96.1}]}, "mark": {"type": "text", "align": "left", "baseline": "middle", "fontSize": 17, "color": "#222"},
   "encoding": {"x": {"field": "e", "type": "quantitative"}, "y": {"field": "v", "type": "quantitative"}, "text": {"field": "t"}}},
  {"data": {"values": [{"t": "1 M KOH", "e": 22194.4, "v": 95.9}]}, "mark": {"type": "text", "align": "right", "baseline": "middle", "fontSize": 17, "fontWeight": "bold", "color": "#1d1df2"},
   "encoding": {"x": {"field": "e", "type": "quantitative"}, "y": {"field": "v", "type": "quantitative"}, "text": {"field": "t"}}}
 ]
}
]
}
